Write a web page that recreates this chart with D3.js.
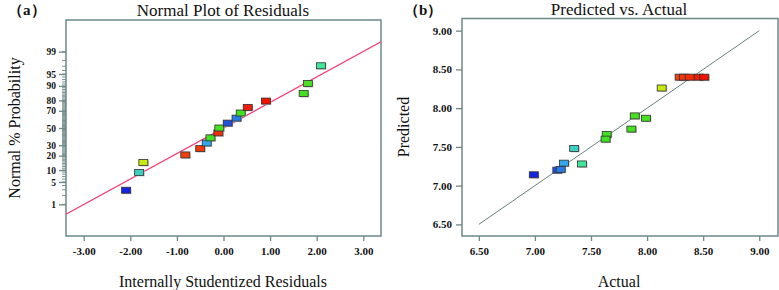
<!DOCTYPE html>
<html>
<head>
<meta charset="utf-8">
<script src="https://cdn.jsdelivr.net/npm/d3@7"></script>
<style>
  body { margin: 0; background: #fff; }
  svg { display: block; }
  text { font-family: "Liberation Serif", "Times New Roman", serif; fill: #111; }
</style>
</head>
<body>
<svg id="chart" width="779" height="290"></svg>
<script>
// one entry per run, sorted by residual
var actual    = [6.99, 7.35, 8.13, 8.29, 8.33, 7.26, 7.64, 8.38, 7.89, 7.20, 7.23, 7.63, 8.46, 8.51, 7.86, 7.99, 7.42];
var predicted = [7.14, 7.48, 8.26, 8.40, 8.40, 7.29, 7.66, 8.40, 7.90, 7.20, 7.21, 7.60, 8.40, 8.40, 7.73, 7.87, 7.28];
var residuals = [-2.09, -1.81, -1.72, -0.82, -0.50, -0.36, -0.28, -0.11, -0.09, 0.09, 0.28, 0.37, 0.52, 0.91, 1.72, 1.81, 2.09];
var probability = [2.9, 8.8, 14.7, 20.6, 26.5, 32.4, 38.2, 44.1, 50.0, 55.9, 61.8, 67.6, 73.5, 79.4, 85.3, 91.2, 97.1];

// fitted normal line (residual, % probability)
var normLineX = [-3.38, 3.38];
var normLineP = [0.43, 99.57];

var resTicks = [-3, -2, -1, 0, 1, 2, 3];
var probTicks = [1, 5, 10, 20, 30, 50, 70, 80, 90, 95, 99];
var valTicks = [6.5, 7.0, 7.5, 8.0, 8.5, 9.0];
var diagLine = [6.5, 9.0];

var axisColor = "#6f8888";

// inverse normal cdf (Acklam)
function probit(p) {
    var a = [-39.6968302866538, 220.946098424521, -275.928510446969, 138.357751867269, -30.6647980661472, 2.50662827745924];
    var b = [-54.4760987982241, 161.585836858041, -155.698979859887, 66.8013118877197, -13.2806815528857];
    var c = [-0.00778489400243029, -0.322396458041136, -2.40075827716184, -2.54973253934373, 4.37466414146497, 2.93816398269878];
    var d = [0.00778469570904146, 0.32246712907004, 2.445134137143, 3.75440866190742];
    var q, r;
    if (p < 0.02425) {
        q = Math.sqrt(-2 * Math.log(p));
        return (((((c[0]*q+c[1])*q+c[2])*q+c[3])*q+c[4])*q+c[5]) / ((((d[0]*q+d[1])*q+d[2])*q+d[3])*q+1);
    } else if (p > 1 - 0.02425) {
        q = Math.sqrt(-2 * Math.log(1 - p));
        return -(((((c[0]*q+c[1])*q+c[2])*q+c[3])*q+c[4])*q+c[5]) / ((((d[0]*q+d[1])*q+d[2])*q+d[3])*q+1);
    }
    q = p - 0.5; r = q * q;
    return (((((a[0]*r+a[1])*r+a[2])*r+a[3])*r+a[4])*r+a[5])*q / (((((b[0]*r+b[1])*r+b[2])*r+b[3])*r+b[4])*r+1);
}

var color = d3.scaleLinear()
    .domain([6.99, 7.20, 7.26, 7.40, 7.60, 8.0, 8.13, 8.29, 8.51])
    .range(["#1424e0", "#2050dc", "#30a8f0", "#40e8a8", "#40e020", "#48e020", "#c8e810", "#f04010", "#f01000"]);

var svg = d3.select("#chart");

function drawMarkers(g, xs, ys) {
    var w = 9, h = 6;
    g.selectAll("rect.shadow").data(xs).enter().append("rect")
        .attr("class", "shadow")
        .attr("x", function (d, i) { return xs[i] - w / 2 + 1; })
        .attr("y", function (d, i) { return ys[i] - h / 2 + 1; })
        .attr("width", w).attr("height", h)
        .attr("fill", "#c8c8c8");
    g.selectAll("rect.mark").data(xs).enter().append("rect")
        .attr("class", "mark")
        .attr("x", function (d, i) { return xs[i] - w / 2; })
        .attr("y", function (d, i) { return ys[i] - h / 2; })
        .attr("width", w).attr("height", h)
        .attr("fill", function (d, i) { return color(actual[i]); })
        .attr("stroke", "#303030")
        .attr("stroke-width", 0.8);
}

function styleAxis(sel, size) {
    sel.attr("font-family", "Liberation Serif").attr("font-size", size || 11).attr("font-weight", "bold");
    sel.select(".domain").remove();
    sel.selectAll(".tick line").attr("stroke", axisColor).attr("stroke-width", 1.3);
    sel.selectAll(".tick text").attr("fill", "#222");
}

// ---------- (a) normal plot ----------
var xA = d3.scaleLinear().domain([-3.38, 3.38]).range([66, 381]);
var yA = d3.scaleLinear().domain([-3.29, 3.29]).range([236, 20]);
var yP = function (p) { return yA(probit(p / 100)); };

var gA = svg.append("g");

// minor ticks every 1%
gA.selectAll("line.minor").data(d3.range(1, 100)).enter().append("line")
    .attr("x1", 62).attr("x2", 66)
    .attr("y1", function (d) { return yP(d); })
    .attr("y2", function (d) { return yP(d); })
    .attr("stroke", axisColor).attr("stroke-width", 0.9);

var axA = gA.append("g").attr("transform", "translate(66,0)")
    .call(d3.axisLeft(yA).tickValues(probTicks.map(function (p) { return probit(p / 100); }))
        .tickFormat(function (d, i) { return probTicks[i]; }).tickSize(7).tickPadding(3));
styleAxis(axA, 9.5);

var axAx = gA.append("g").attr("transform", "translate(0,236)")
    .call(d3.axisBottom(xA).tickValues(resTicks).tickFormat(function (d) { return d.toFixed(2); })
        .tickSize(5).tickPadding(6));
styleAxis(axAx);

gA.append("rect").attr("x", 66).attr("y", 20).attr("width", 315).attr("height", 216)
    .attr("fill", "none").attr("stroke", axisColor).attr("stroke-width", 1.5);

gA.append("defs").append("clipPath").attr("id", "clipA").append("rect")
    .attr("x", 66).attr("y", 20).attr("width", 315).attr("height", 216);

gA.append("line").attr("clip-path", "url(#clipA)")
    .attr("x1", xA(normLineX[0])).attr("y1", yP(normLineP[0]))
    .attr("x2", xA(normLineX[1])).attr("y2", yP(normLineP[1]))
    .attr("stroke", "#f0407a").attr("stroke-width", 1.3);

drawMarkers(gA.append("g"), residuals.map(xA), probability.map(yP));

gA.append("text").attr("x", 223).attr("y", 16).attr("text-anchor", "middle")
    .style("font-size", "17px").text("Normal Plot of Residuals");
gA.append("text").attr("x", 8).attr("y", 15)
    .style("font-size", "15px").style("font-weight", "bold").text("（a）");
gA.append("text").attr("x", 223).attr("y", 287).attr("text-anchor", "middle")
    .style("font-size", "16px").text("Internally Studentized Residuals");
gA.append("text").attr("transform", "translate(20,128) rotate(-90)").attr("text-anchor", "middle")
    .style("font-size", "16px").text("Normal % Probability");

// ---------- (b) predicted vs actual ----------
var xB = d3.scaleLinear().domain([6.35, 9.167]).range([462, 778]);
var yB = d3.scaleLinear().domain([6.35, 9.157]).range([236, 18.5]);

var gB = svg.append("g");

var axBy = gB.append("g").attr("transform", "translate(462,0)")
    .call(d3.axisLeft(yB).tickValues(valTicks).tickFormat(d3.format(".2f")).tickSize(6).tickPadding(4));
styleAxis(axBy);
var axBx = gB.append("g").attr("transform", "translate(0,236)")
    .call(d3.axisBottom(xB).tickValues(valTicks).tickFormat(d3.format(".2f")).tickSize(5).tickPadding(6));
styleAxis(axBx);

gB.append("rect").attr("x", 462).attr("y", 18.5).attr("width", 316).attr("height", 217.5)
    .attr("fill", "none").attr("stroke", axisColor).attr("stroke-width", 1.5);

gB.append("line")
    .attr("x1", xB(diagLine[0])).attr("y1", yB(diagLine[0]))
    .attr("x2", xB(diagLine[1])).attr("y2", yB(diagLine[1]))
    .attr("stroke", "#6a7f7f").attr("stroke-width", 1);

drawMarkers(gB.append("g"), actual.map(xB), predicted.map(yB));

gB.append("text").attr("x", 619).attr("y", 15).attr("text-anchor", "middle")
    .style("font-size", "17px").text("Predicted vs. Actual");
gB.append("text").attr("x", 404).attr("y", 15)
    .style("font-size", "15px").style("font-weight", "bold").text("（b）");
gB.append("text").attr("x", 619).attr("y", 287).attr("text-anchor", "middle")
    .style("font-size", "16px").text("Actual");
gB.append("text").attr("transform", "translate(409,127) rotate(-90)").attr("text-anchor", "middle")
    .style("font-size", "16px").text("Predicted");
</script>
</body>
</html>
